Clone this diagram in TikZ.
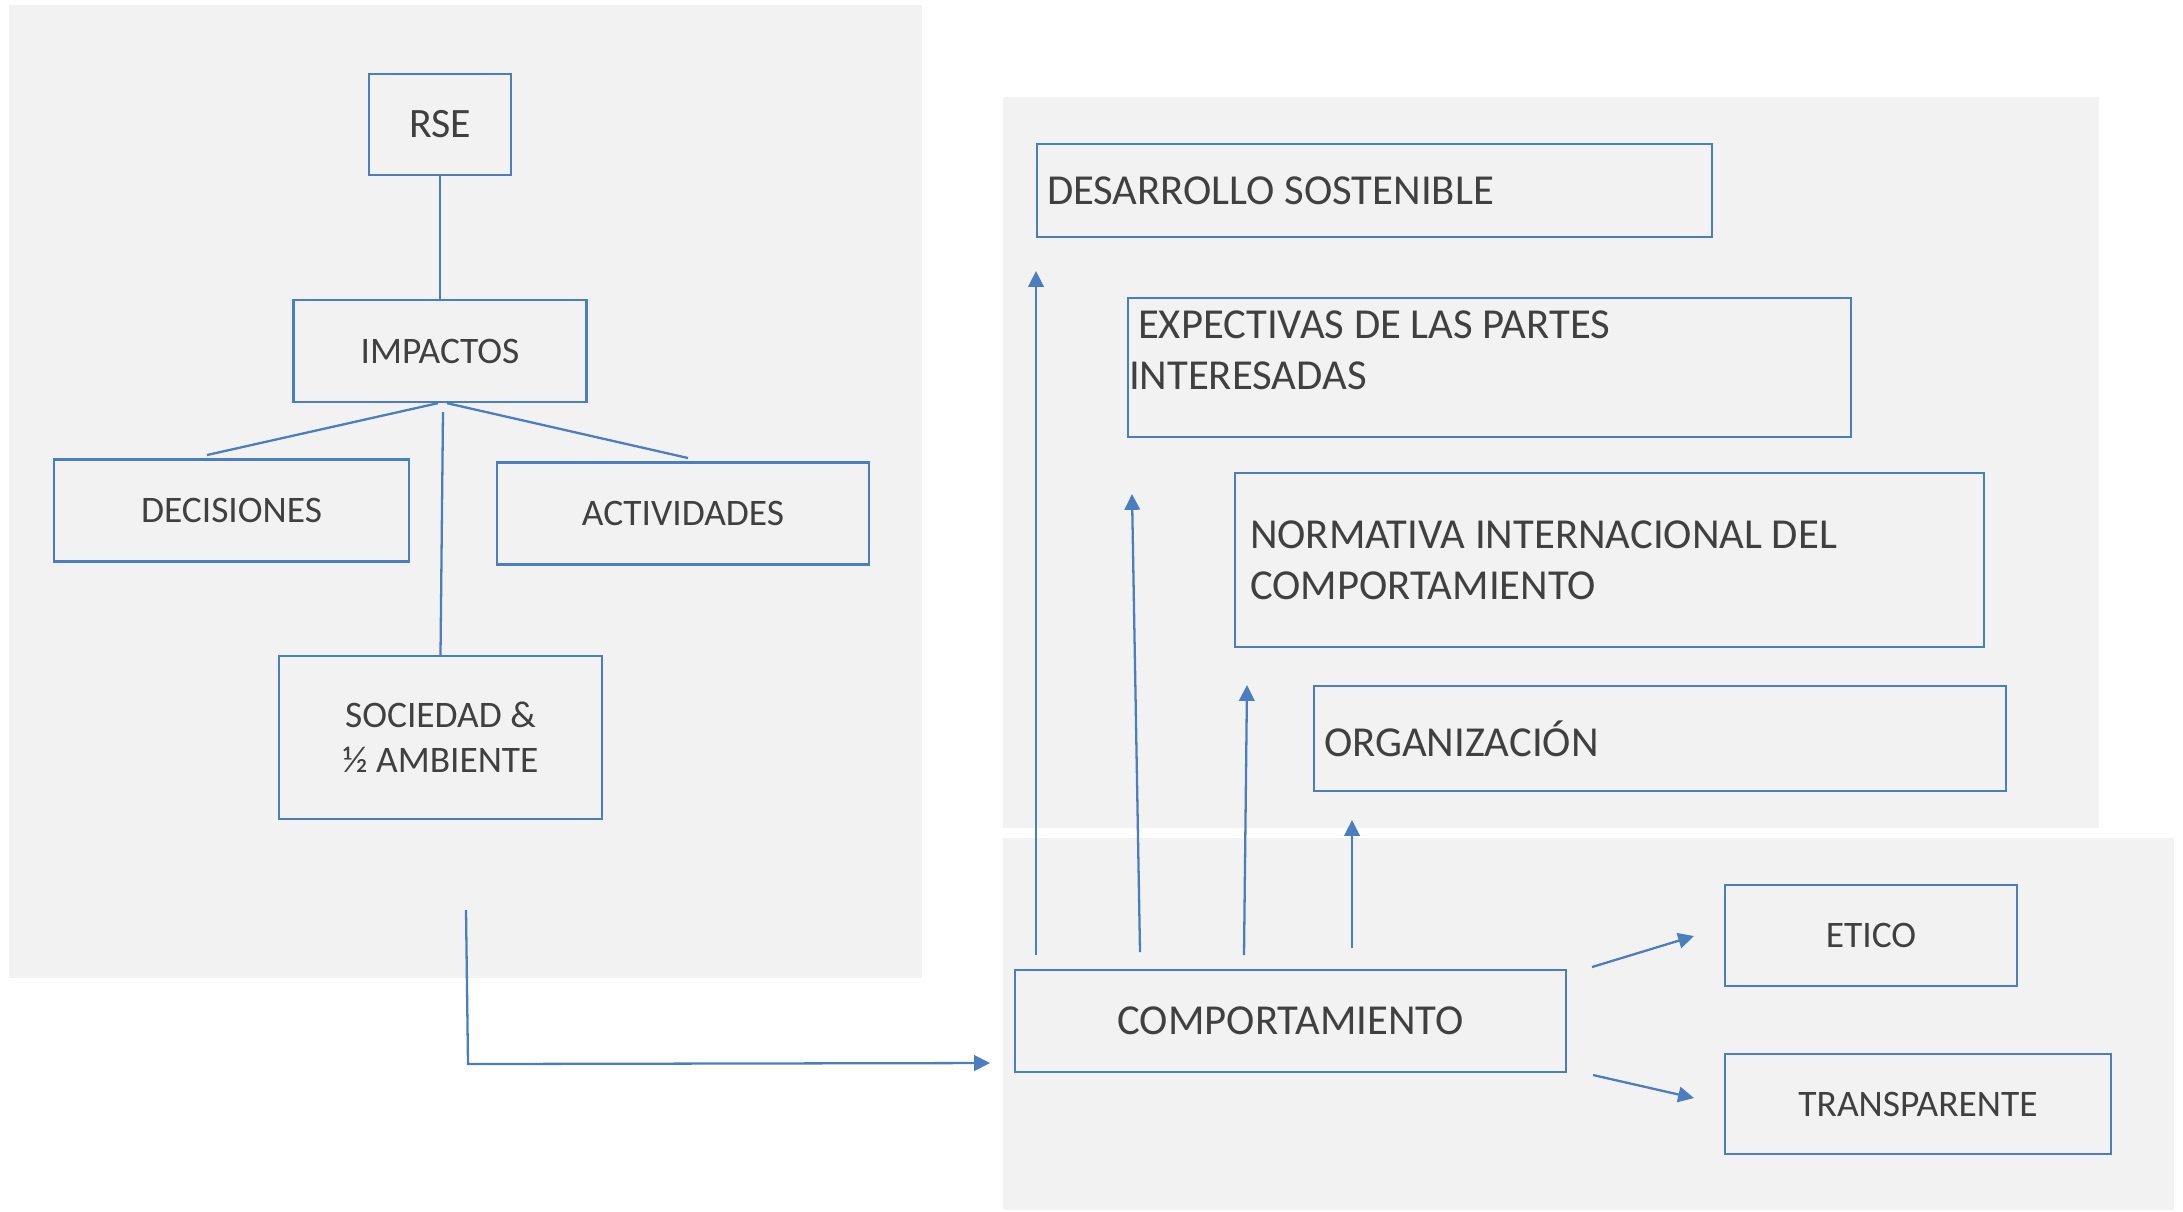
\documentclass[tikz,border=0pt]{standalone}
\usepackage{fontspec}
\setmainfont{Carlito}
\usetikzlibrary{positioning, arrows.meta}

\definecolor{azul}{RGB}{74,126,193}
\definecolor{fondo}{RGB}{242,242,242}
\definecolor{texto}{RGB}{64,64,64}

\tikzset{
	caja/.style={draw=azul, line width=0.65pt, text=texto, inner sep=0pt},
	chica/.style={font=\fontsize{10.65}{12.8}\selectfont},
	grande/.style={font=\fontsize{12.15}{14.5}\selectfont, align=flush left},
	linea/.style={draw=azul, line width=0.65pt},
	flecha/.style={linea, -{Triangle[length=4.5pt, width=4.4pt]}}
}

\begin{document}
\begin{tikzpicture}
	\useasboundingbox (0,0) rectangle (21.83,-12.11);
	
	% fondos
	\fill[fondo] (0.09,-0.05) rectangle (9.22,-9.78);
	\fill[fondo] (10.03,-0.97) rectangle (20.99,-8.28);
	\fill[fondo] (10.03,-8.38) rectangle (21.74,-12.10);
	
	% izquierda
	\node[caja, minimum width=1.42cm, minimum height=1.01cm, font=\fontsize{11.9}{14}\selectfont] (rse) at (4.40,-1.245) {RSE};
	\node[caja, chica, minimum width=2.93cm, minimum height=1.02cm] (imp) at (4.40,-3.51) {IMPACTOS};
	\node[caja, chica, minimum width=3.55cm, minimum height=1.02cm] (dec) at (2.315,-5.105) {DECISIONES};
	\node[caja, chica, minimum width=3.72cm, minimum height=1.02cm] (act) at (6.83,-5.135) {ACTIVIDADES};
	\node[caja, chica, align=center, minimum width=3.23cm, minimum height=1.63cm] (soc) at (4.405,-7.375) {SOCIEDAD \&\\½ AMBIENTE};
	
	\coordinate (d1) at (2.07,-4.55);
	\coordinate (a1) at (6.88,-4.58);
	\draw[linea] (rse) -- (imp);
	\draw[linea] ([xshift=-0.02cm]imp.south) -- (d1);
	\draw[linea] ([xshift=0.07cm]imp.south) -- (a1);
	\draw[linea] ([xshift=0.03cm, yshift=-0.09cm]imp.south) -- (soc.north);
	
	% derecha
	\node[caja, grande, text width=6.55cm, inner xsep=0.1cm, minimum height=0.93cm] (des) at (13.745,-1.905) {DESARROLLO SOSTENIBLE};
	\node[caja, grande, text width=7.21cm, inner xsep=0.01cm, minimum height=1.39cm] (exp) at (14.895,-3.675) {\hspace*{0.09cm}EXPECTIVAS DE LAS PARTES\\INTERESADAS\\[-0.16cm]\mbox{}};
	\node[caja, grande, text width=7.19cm, inner xsep=0.15cm, minimum height=1.74cm] (nor) at (16.095,-5.60) {NORMATIVA INTERNACIONAL DEL\\COMPORTAMIENTO};
	\node[caja, grande, text width=6.72cm, inner xsep=0.1cm, minimum height=1.05cm] (org) at (16.60,-7.385) {ORGANIZACIÓN};
	
	\node[caja, font=\fontsize{12.15}{14.5}\selectfont, minimum width=5.51cm, minimum height=1.02cm] (com) at (12.905,-10.21) {COMPORTAMIENTO};
	\node[caja, chica, minimum width=2.92cm, minimum height=1.01cm] (eti) at (18.71,-9.355) {ETICO};
	\node[caja, chica, minimum width=3.86cm, minimum height=1.00cm] (tra) at (19.18,-11.04) {TRANSPARENTE};
	
	% flechas
	\coordinate (b0) at (4.66,-9.10);
	\coordinate (b1) at (4.68,-10.64);
	\coordinate (b2) at (9.90,-10.63);
	\draw[flecha] (b0) -- (b1) -- (b2);
	
	\coordinate (s1) at (10.36,-9.55);
	\coordinate (e1) at (10.36,-2.71);
	\coordinate (s2) at (11.40,-9.52);
	\coordinate (e2) at (11.32,-4.94);
	\coordinate (s3) at (12.44,-9.55);
	\coordinate (e3) at (12.47,-6.85);
	\coordinate (s4) at (13.52,-9.48);
	\coordinate (e4) at (13.52,-8.20);
	\draw[flecha] (s1) -- (e1);
	\draw[flecha] (s2) -- (e2);
	\draw[flecha] (s3) -- (e3);
	\draw[flecha] (s4) -- (e4);
	
	\coordinate (s5) at (15.92,-9.67);
	\coordinate (e5) at (16.94,-9.36);
	\coordinate (s6) at (15.93,-10.75);
	\coordinate (e6) at (16.94,-10.98);
	\draw[flecha] (s5) -- (e5);
	\draw[flecha] (s6) -- (e6);
\end{tikzpicture}
\end{document}
